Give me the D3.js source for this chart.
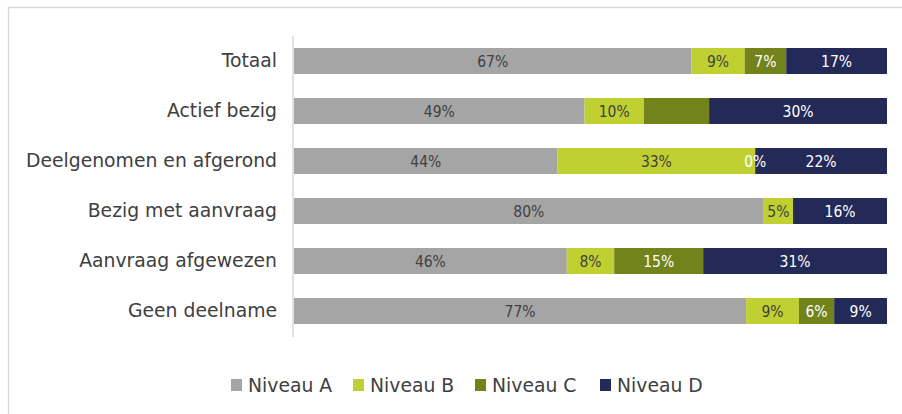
<!DOCTYPE html>
<html>
<head>
<meta charset="utf-8">
<script src="https://cdn.jsdelivr.net/npm/d3@7"></script>
<style>
  body { margin: 0; background: #fff; }
  svg { display: block; font-family: 'DejaVu Sans', sans-serif; }
</style>
</head>
<body>
<div id="chart"></div>
<script>
// categories and series (percentages as shown on the bars)
const categories = ['Totaal', 'Actief bezig', 'Deelgenomen en afgerond',
  'Bezig met aanvraag', 'Aanvraag afgewezen', 'Geen deelname']
const seriesNames = ['Niveau A', 'Niveau B', 'Niveau C', 'Niveau D']
const niveauA = [67, 49, 44, 80, 46, 77]
const niveauB = [9, 10, 33, 5, 8, 9]
const niveauC = [7, 11, 0, 0, 15, 6]
const niveauD = [17, 30, 22, 16, 31, 9]
// which labels of niveau C are shown (excel hid some of them)
const showC = [true, false, true, false, true, true]

const colors = ['#a5a5a5', '#c0d032', '#72831c', '#242a57']
const labelColors = ['#404040', '#404040', '#ffffff', '#ffffff']

const width = 902
const height = 414

const rows = categories.map(function (c, i) {
  return { cat: c, 'Niveau A': niveauA[i], 'Niveau B': niveauB[i], 'Niveau C': niveauC[i], 'Niveau D': niveauD[i], idx: i }
})

const stacked = d3.stack().keys(seriesNames).offset(d3.stackOffsetExpand)(rows)

const svg = d3.select('#chart')
  .append('svg')
  .attr('width', width)
  .attr('height', height)

// chart frame
svg.append('rect')
  .attr('x', 8.5).attr('y', 7.5)
  .attr('width', width + 20).attr('height', height + 20)
  .attr('fill', 'none')
  .attr('stroke', '#d9d9d9')
  .attr('stroke-width', 1.5)

const x = d3.scaleLinear().domain([0, 1]).range([294, 887])
const y = d3.scaleBand().domain(categories).range([36, 336]).paddingInner(0.48).paddingOuter(0.24)

// category axis
const yAxis = svg.append('g')
  .attr('transform', 'translate(293,0)')
  .call(d3.axisLeft(y).tickSize(0).tickPadding(16))
yAxis.select('.domain').attr('stroke', '#d9d9d9').attr('stroke-width', 1.5)
  .attr('d', 'M0,36V337')
yAxis.selectAll('text')
  .attr('font-size', 18.8)
  .attr('fill', '#404040')
  .attr('font-family', 'DejaVu Sans')

const layers = svg.append('g').selectAll('g')
  .data(stacked)
  .enter().append('g')
  .attr('fill', function (d, i) { return colors[i] })

layers.selectAll('rect')
  .data(function (d) { return d })
  .enter().append('rect')
  .attr('x', function (d) { return x(d[0]) })
  .attr('width', function (d) { return x(d[1]) - x(d[0]) })
  .attr('y', function (d) { return y(d.data.cat) })
  .attr('height', y.bandwidth())

// data labels
stacked.forEach(function (layer, si) {
  svg.append('g').selectAll('text')
    .data(layer.filter(function (d) {
      if (si === 2) return showC[d.data.idx]
      return true
    }))
    .enter().append('text')
    .attr('x', function (d) { return (x(d[0]) + x(d[1])) / 2 })
    .attr('y', function (d) { return y(d.data.cat) + y.bandwidth() / 2 })
    .attr('dy', '0.38em')
    .attr('text-anchor', 'middle')
    .attr('font-size', 15.5)
    .attr('font-family', 'DejaVu Sans Condensed, DejaVu Sans')
    .attr('fill', labelColors[si])
    .text(function (d) { return d.data[layer.key] + '%' })
})

// legend
const legendX = [231, 353, 475, 600]
const legend = svg.append('g').selectAll('g')
  .data(seriesNames)
  .enter().append('g')
  .attr('transform', function (d, i) { return 'translate(' + legendX[i] + ',379)' })
legend.append('rect')
  .attr('width', 11).attr('height', 12)
  .attr('fill', function (d, i) { return colors[i] })
legend.append('text')
  .attr('x', 17).attr('y', 6)
  .attr('dy', '0.38em')
  .attr('font-size', 18.8)
  .attr('fill', '#404040')
  .text(function (d) { return d })
</script>
</body>
</html>
